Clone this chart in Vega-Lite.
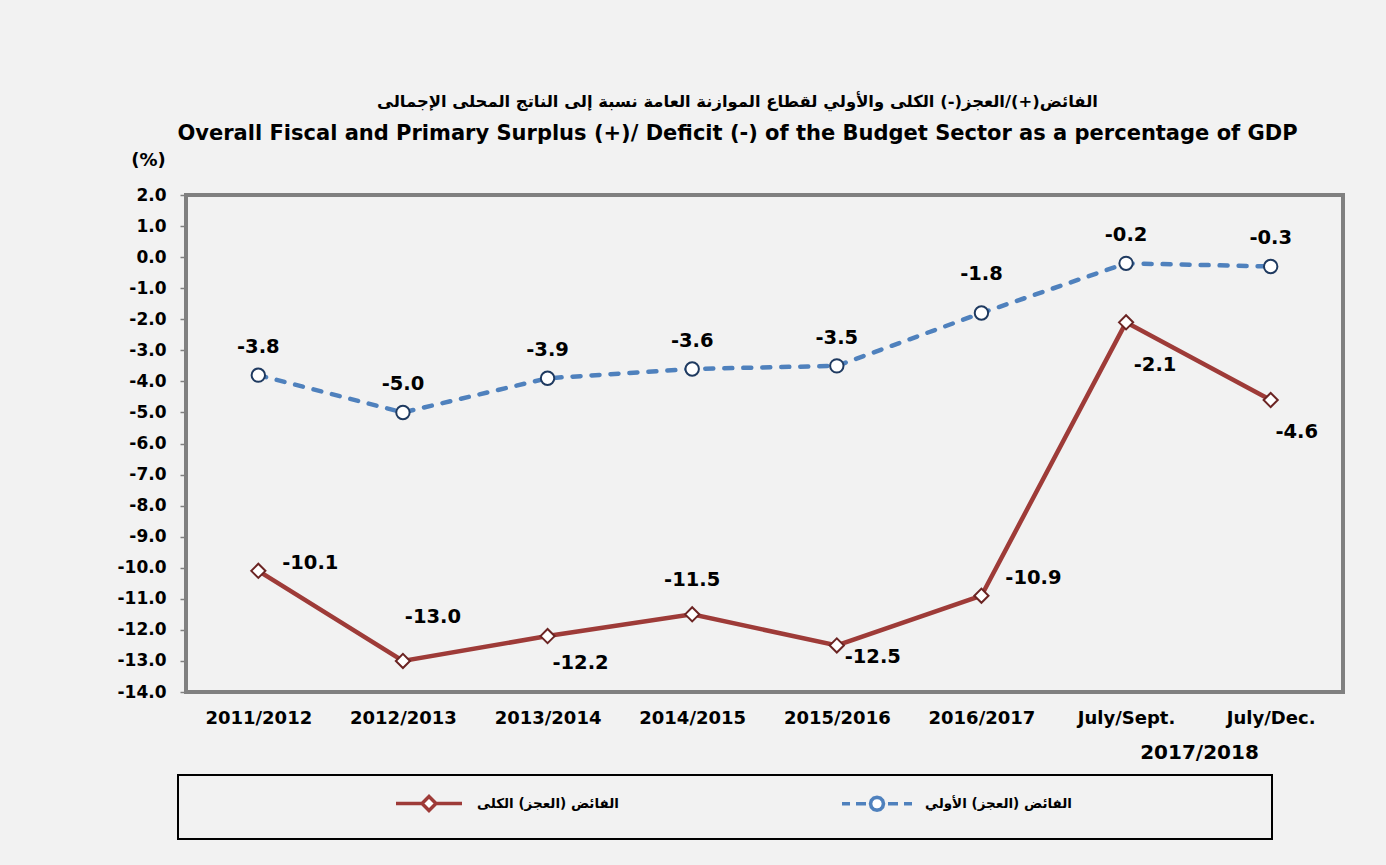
{
  "$schema": "https://vega.github.io/schema/vega-lite/v6.json",
  "autosize": {"type": "none"},
  "width": 1157,
  "height": 497,
  "padding": {"left": 186, "top": 195, "right": 43, "bottom": 173},
  "background": "#f2f2f2",
  "config": {
    "font": "DejaVu Sans, sans-serif",
    "locale": {"number": {"decimal": ".", "thousands": ",", "grouping": [3], "currency": ["$", ""], "minus": "-"}},
    "view": {"fill": "#f2f2f2", "stroke": "#808080", "strokeWidth": 4}
  },
  "title": {
    "text": "الفائض(+)/العجز(-) الكلى والأولي لقطاع الموازنة العامة نسبة إلى الناتج المحلى الإجمالى",
    "subtitle": "Overall Fiscal and Primary Surplus (+)/ Deficit (-) of the Budget Sector  as a percentage of GDP",
    "anchor": "middle",
    "frame": "group",
    "dx": -27,
    "offset": 7,
    "fontSize": 16.4,
    "fontWeight": "bold",
    "color": "black",
    "subtitleFontSize": 21,
    "subtitleFontWeight": "bold",
    "subtitleColor": "black",
    "subtitlePadding": 13,
    "font": "DejaVu Sans, sans-serif",
    "subtitleFont": "DejaVu Sans, sans-serif"
  },
  "data": {
    "values": [
      {"cat": "2011/2012", "series": "الفائض (العجز) الكلى", "value": -10.1},
      {"cat": "2012/2013", "series": "الفائض (العجز) الكلى", "value": -13.0},
      {"cat": "2013/2014", "series": "الفائض (العجز) الكلى", "value": -12.2},
      {"cat": "2014/2015", "series": "الفائض (العجز) الكلى", "value": -11.5},
      {"cat": "2015/2016", "series": "الفائض (العجز) الكلى", "value": -12.5},
      {"cat": "2016/2017", "series": "الفائض (العجز) الكلى", "value": -10.9},
      {"cat": "July/Sept.", "series": "الفائض (العجز) الكلى", "value": -2.1},
      {"cat": "July/Dec.", "series": "الفائض (العجز) الكلى", "value": -4.6},
      {"cat": "2011/2012", "series": "الفائض (العجز) الأولي", "value": -3.8},
      {"cat": "2012/2013", "series": "الفائض (العجز) الأولي", "value": -5.0},
      {"cat": "2013/2014", "series": "الفائض (العجز) الأولي", "value": -3.9},
      {"cat": "2014/2015", "series": "الفائض (العجز) الأولي", "value": -3.6},
      {"cat": "2015/2016", "series": "الفائض (العجز) الأولي", "value": -3.5},
      {"cat": "2016/2017", "series": "الفائض (العجز) الأولي", "value": -1.8},
      {"cat": "July/Sept.", "series": "الفائض (العجز) الأولي", "value": -0.2},
      {"cat": "July/Dec.", "series": "الفائض (العجز) الأولي", "value": -0.3}
    ]
  },
  "encoding": {
    "x": {
      "field": "cat",
      "type": "nominal",
      "sort": null,
      "scale": {"type": "point", "padding": 0.5},
      "axis": {
        "title": "2017/2018",
        "titleX": 1013,
        "titleY": 60,
        "titleAlign": "center",
        "titleBaseline": "middle",
        "titleFontSize": 20,
        "titleFontWeight": "bold",
        "titleColor": "black",
        "labelAngle": 0,
        "labelFontSize": 18,
        "labelFontWeight": "bold",
        "labelColor": "black",
        "labelPadding": 17,
        "ticks": false,
        "tickSize": 0,
        "domain": false,
        "grid": false
      }
    },
    "y": {
      "field": "value",
      "type": "quantitative",
      "scale": {"domain": [-14, 2], "nice": false, "zero": false},
      "axis": {
        "title": "(%)",
        "titleAngle": 0,
        "titleX": -38,
        "titleY": -35,
        "titleAlign": "center",
        "titleBaseline": "middle",
        "titleFontSize": 18,
        "titleFontWeight": "bold",
        "titleColor": "black",
        "values": [2, 1, 0, -1, -2, -3, -4, -5, -6, -7, -8, -9, -10, -11, -12, -13, -14],
        "format": ".1f",
        "labelFontSize": 17,
        "labelFontWeight": "bold",
        "labelColor": "black",
        "labelPadding": 14,
        "tickSize": 6,
        "tickColor": "#808080",
        "tickWidth": 1.5,
        "domain": false,
        "grid": false,
        "labelOverlap": false
      }
    },
    "color": {
      "field": "series",
      "type": "nominal",
      "scale": {"domain": ["الفائض (العجز) الكلى", "الفائض (العجز) الأولي"], "range": ["#9e3b38", "#4f81bd"]},
      "legend": {
        "orient": "none",
        "legendX": -8,
        "legendY": 580,
        "direction": "horizontal",
        "title": null,
        "padding": 21.5,
        "fillColor": "#f2f2f2",
        "strokeColor": "#000000",
        "symbolSize": 100,
        "symbolStrokeWidth": 4,
        "symbolOffset": 222.5,
        "labelOffset": 41,
        "columnPadding": 28,
        "labelFontSize": 13.5,
        "labelFontWeight": "bold",
        "labelColor": "black",
        "labelLimit": 400,
        "encode": {
          "legend": {"update": {"strokeWidth": {"value": 2}}},
          "symbols": {
            "update": {
              "shape": {"signal": "datum.index === 0 ? 'M-6.6,0L-1.4,0M1.4,0L6.6,0M-1.4,0L0,-1.4L1.4,0L0,1.4Z' : 'M-7,0L-5.4,0M-4.2,0L-2.2,0M2.2,0L4.2,0M5.4,0L7,0M1.3,0L1.126,0.65L0.65,1.126L0,1.3L-0.65,1.126L-1.126,0.65L-1.3,0L-1.126,-0.65L-0.65,-1.126L0,-1.3L0.65,-1.126L1.126,-0.65ZM73.2,0'"},
              "fill": {"value": "white"},
              "fillOpacity": {"value": 1},
              "strokeWidth": {"value": 3.5}
            }
          }
        }
      }
    }
  },
  "layer": [
    {
      "transform": [{"filter": "datum.series === 'الفائض (العجز) الكلى'"}],
      "mark": {"type": "line", "strokeWidth": 4.5, "strokeCap": "round"}
    },
    {
      "transform": [{"filter": "datum.series === 'الفائض (العجز) الأولي'"}],
      "mark": {"type": "line", "strokeWidth": 4.5, "strokeCap": "round", "strokeDash": [8, 11]}
    },
    {
      "transform": [{"filter": "datum.series === 'الفائض (العجز) الكلى'"}],
      "mark": {"type": "point", "shape": "diamond", "filled": true, "fill": "white", "stroke": "#6b2423", "strokeWidth": 2, "size": 200, "opacity": 1},
      "encoding": {"color": {"value": "white"}}
    },
    {
      "transform": [{"filter": "datum.series === 'الفائض (العجز) الأولي'"}],
      "mark": {"type": "point", "shape": "circle", "filled": true, "fill": "white", "stroke": "#1f3a60", "strokeWidth": 2, "size": 180, "opacity": 1},
      "encoding": {"color": {"value": "white"}}
    },
    {
      "transform": [{"filter": "datum.series === 'الفائض (العجز) الأولي' && datum.cat !== '2016/2017'"}],
      "mark": {"type": "text", "fontSize": 19.5, "fontWeight": "bold", "dy": -28},
      "encoding": {"text": {"field": "value", "format": ".1f"}, "color": {"value": "black"}}
    },
    {
      "transform": [{"filter": "datum.series === 'الفائض (العجز) الأولي' && datum.cat === '2016/2017'"}],
      "mark": {"type": "text", "fontSize": 19.5, "fontWeight": "bold", "dy": -39},
      "encoding": {"text": {"field": "value", "format": ".1f"}, "color": {"value": "black"}}
    },
    {
      "transform": [{"filter": "datum.series === 'الفائض (العجز) الكلى' && datum.cat === '2011/2012'"}],
      "mark": {"type": "text", "fontSize": 19.5, "fontWeight": "bold", "dx": 52, "dy": -8},
      "encoding": {"text": {"field": "value", "format": ".1f"}, "color": {"value": "black"}}
    },
    {
      "transform": [{"filter": "datum.series === 'الفائض (العجز) الكلى' && datum.cat === '2012/2013'"}],
      "mark": {"type": "text", "fontSize": 19.5, "fontWeight": "bold", "dx": 30, "dy": -44},
      "encoding": {"text": {"field": "value", "format": ".1f"}, "color": {"value": "black"}}
    },
    {
      "transform": [{"filter": "datum.series === 'الفائض (العجز) الكلى' && datum.cat === '2013/2014'"}],
      "mark": {"type": "text", "fontSize": 19.5, "fontWeight": "bold", "dx": 33, "dy": 27},
      "encoding": {"text": {"field": "value", "format": ".1f"}, "color": {"value": "black"}}
    },
    {
      "transform": [{"filter": "datum.series === 'الفائض (العجز) الكلى' && datum.cat === '2014/2015'"}],
      "mark": {"type": "text", "fontSize": 19.5, "fontWeight": "bold", "dx": 0, "dy": -34},
      "encoding": {"text": {"field": "value", "format": ".1f"}, "color": {"value": "black"}}
    },
    {
      "transform": [{"filter": "datum.series === 'الفائض (العجز) الكلى' && datum.cat === '2015/2016'"}],
      "mark": {"type": "text", "fontSize": 19.5, "fontWeight": "bold", "dx": 36, "dy": 12},
      "encoding": {"text": {"field": "value", "format": ".1f"}, "color": {"value": "black"}}
    },
    {
      "transform": [{"filter": "datum.series === 'الفائض (العجز) الكلى' && datum.cat === '2016/2017'"}],
      "mark": {"type": "text", "fontSize": 19.5, "fontWeight": "bold", "dx": 52, "dy": -18},
      "encoding": {"text": {"field": "value", "format": ".1f"}, "color": {"value": "black"}}
    },
    {
      "transform": [{"filter": "datum.series === 'الفائض (العجز) الكلى' && datum.cat === 'July/Sept.'"}],
      "mark": {"type": "text", "fontSize": 19.5, "fontWeight": "bold", "dx": 29, "dy": 43},
      "encoding": {"text": {"field": "value", "format": ".1f"}, "color": {"value": "black"}}
    },
    {
      "transform": [{"filter": "datum.series === 'الفائض (العجز) الكلى' && datum.cat === 'July/Dec.'"}],
      "mark": {"type": "text", "fontSize": 19.5, "fontWeight": "bold", "dx": 26, "dy": 32},
      "encoding": {"text": {"field": "value", "format": ".1f"}, "color": {"value": "black"}}
    }
  ]
}
